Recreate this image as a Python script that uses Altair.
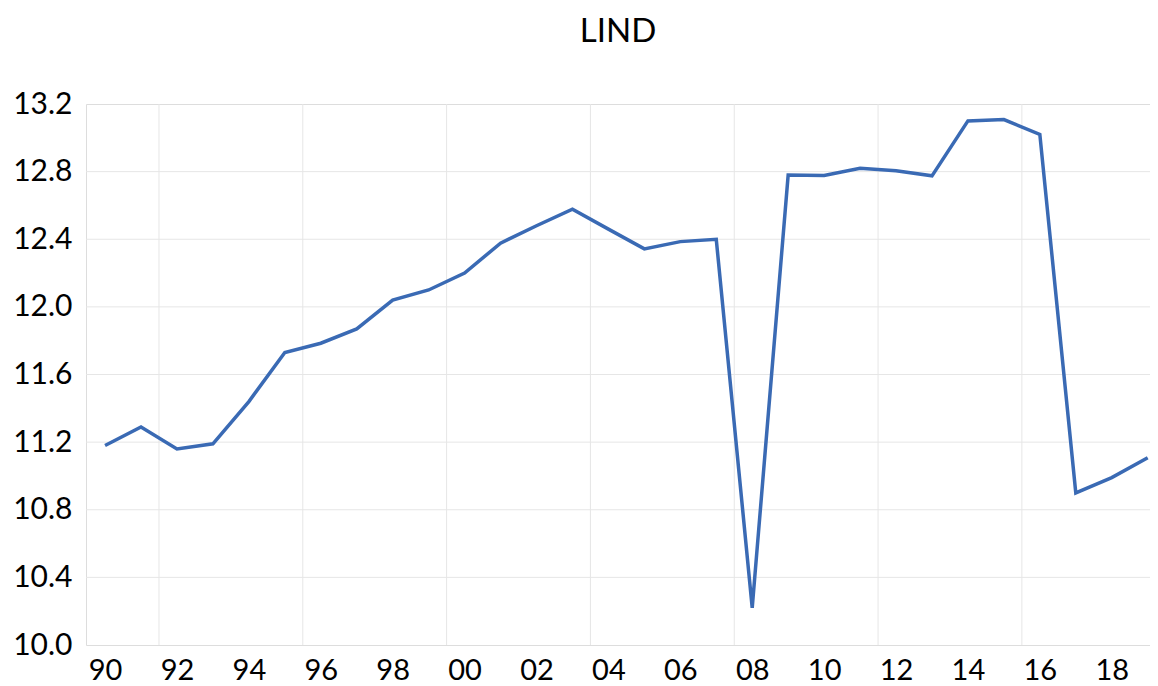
import altair as alt
import pandas as pd

# ---- data ----
years = list(range(1990, 2020))
lind = [11.18, 11.29, 11.16, 11.19, 11.44, 11.73, 11.785, 11.87, 12.04, 12.10,
        12.20, 12.377, 12.48, 12.578, 12.46, 12.343, 12.386, 12.40, 10.22, 12.78,
        12.777, 12.82, 12.805, 12.775, 13.10, 13.108, 13.02, 10.90, 10.99, 11.108]

y_ticks = [10.0, 10.4, 10.8, 11.2, 11.6, 12.0, 12.4, 12.8, 13.2]
x_ticks = [1990, 1992, 1994, 1996, 1998, 2000, 2002, 2004, 2006, 2008,
           2010, 2012, 2014, 2016, 2018]
y_grid = [10.4, 10.8, 11.2, 11.6, 12.0, 12.4, 12.8]
x_grid = [1991.5, 1995.5, 1999.5, 2003.5, 2007.5, 2011.5, 2015.5]

df = pd.DataFrame({"year": years, "lind": lind})
df_xg = pd.DataFrame({"year": x_grid})
df_yg = pd.DataFrame({"lind": y_grid})

FONT = "Lato"
x_scale = alt.Scale(domain=[1989.47, 2019.064], nice=False, zero=False)
y_scale = alt.Scale(domain=[10.0, 13.2], nice=False, zero=False)

x_axis = alt.Axis(
    values=x_ticks,
    labelExpr="substring(toString(datum.value), 2, 4)",
    title=None,
    grid=False,
    domain=False,
    ticks=False,
    tickSize=0,
    labelFont=FONT,
    labelFontSize=29,
    labelColor="#000000",
    labelPadding=11,
    labelFlush=False,
    labelOverlap=False,
)
y_axis = alt.Axis(
    values=y_ticks,
    format=".1f",
    title=None,
    grid=False,
    domain=False,
    ticks=False,
    tickSize=0,
    labelFont=FONT,
    labelFontSize=30,
    labelColor="#000000",
    labelPadding=14,
    labelFlush=False,
    labelOverlap=False,
)

hgrid = alt.Chart(df_yg).mark_rule(color="#e6e6e6", strokeWidth=1).encode(
    y=alt.Y("lind:Q", scale=y_scale, axis=y_axis)
)
vgrid = alt.Chart(df_xg).mark_rule(color="#e6e6e6", strokeWidth=1).encode(
    x=alt.X("year:Q", scale=x_scale, axis=x_axis)
)

line = alt.Chart(df).mark_line(color="#3a6ab4", strokeWidth=3.5).encode(
    x=alt.X("year:Q", scale=x_scale, axis=x_axis),
    y=alt.Y("lind:Q", scale=y_scale, axis=y_axis),
)

chart = (
    alt.layer(hgrid, vgrid, line)
    .properties(
        width=1064,
        height=541,
        padding={"left": 78, "top": 96, "right": 0, "bottom": 41},
        autosize=alt.AutoSizeParams(type="none"),
        title=alt.TitleParams(
            "LIND",
            font=FONT,
            fontSize=33,
            fontWeight="normal",
            color="#000000",
            anchor="middle",
            offset=40,
        ),
    )
    .configure_view(strokeWidth=0, stroke="transparent")
    .configure(background="white")
)

chart.save("out.html", embed_options={"renderer": "svg", "actions": False})
